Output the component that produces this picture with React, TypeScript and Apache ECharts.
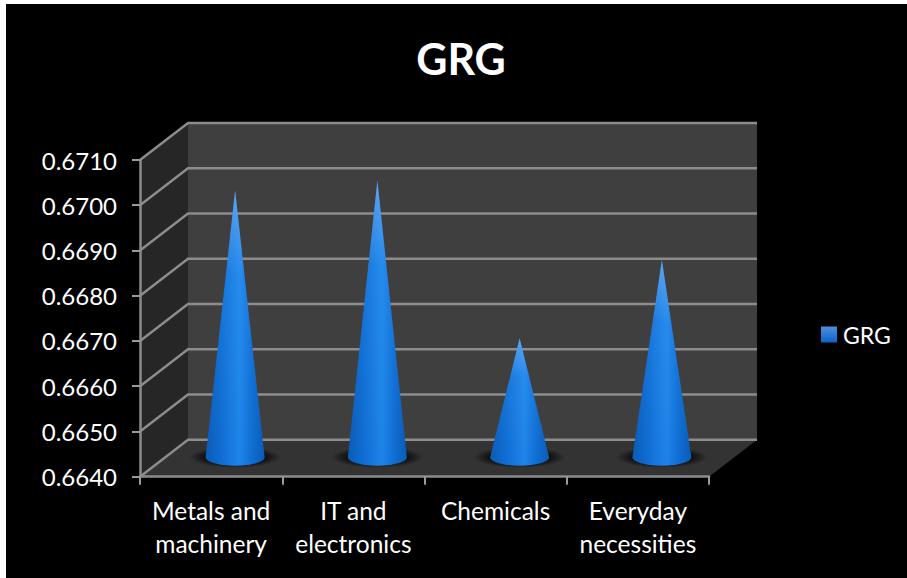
import React, { useEffect, useRef } from "react";
import * as echarts from "echarts";

const seriesName = "GRG";
const categories = ["Metals and\nmachinery", "IT and\nelectronics", "Chemicals", "Everyday\nnecessities"];
const grgValues = [0.66992, 0.67014, 0.66665, 0.66838];
const tickValues = [0.664, 0.665, 0.666, 0.667, 0.668, 0.669, 0.67, 0.671];

const AXIS_MIN = 0.664;
const AXIS_MAX = 0.671;
const DEPTH_X = 48;
const DEPTH_Y = 37;
const CONE_RX = 29.5;
const CONE_RY = 8.5;
const LINE_GREY = "#8c8c8c";
const FONT = "Lato";

// Back wall, side wall, floor and the gridlines that fold across them.
function renderWalls(params: any, api: any) {
  const { x, width } = params.coordSys;
  const right = x + width;
  const tickY = api.coord([0, api.value(1)])[1];
  const children: any[] = [];
  if (params.dataIndex === 0) {
    const bottom = api.coord([0, AXIS_MIN])[1];
    const top = api.coord([0, AXIS_MAX])[1];
    children.push(
      {
        type: "polygon",
        shape: { points: [[x + DEPTH_X, top - DEPTH_Y], [right + DEPTH_X, top - DEPTH_Y], [right + DEPTH_X, bottom - DEPTH_Y], [x + DEPTH_X, bottom - DEPTH_Y]] },
        style: { fill: "#3f3f3f" },
      },
      {
        type: "polygon",
        shape: { points: [[x, top], [x + DEPTH_X, top - DEPTH_Y], [x + DEPTH_X, bottom - DEPTH_Y], [x, bottom]] },
        style: { fill: "#262626" },
      },
      {
        type: "polygon",
        shape: { points: [[x, bottom], [x + DEPTH_X, bottom - DEPTH_Y], [right + DEPTH_X, bottom - DEPTH_Y], [right, bottom]] },
        style: { fill: "#333333" },
      },
    );
  }
  children.push({
    type: "polyline",
    shape: { points: [[x, tickY], [x + DEPTH_X, tickY - DEPTH_Y], [right + DEPTH_X, tickY - DEPTH_Y]] },
    style: { fill: "none", stroke: LINE_GREY, lineWidth: 2.5 },
  });
  return { type: "group", children };
}

// A shaded cone standing on the floor, halfway into the chart's depth.
function renderCone(_params: any, api: any) {
  const index = api.value(0);
  const base = api.coord([index, AXIS_MIN]);
  const tip = api.coord([index, api.value(1)]);
  const cx = base[0] + DEPTH_X / 2;
  const by = base[1] - DEPTH_Y / 2 - 1;
  const ty = tip[1] - DEPTH_Y / 2;
  const outline = `M${cx - CONE_RX} ${by} L${cx} ${ty} L${cx + CONE_RX} ${by} A${CONE_RX} ${CONE_RY} 0 0 1 ${cx - CONE_RX} ${by} Z`;
  return {
    type: "group",
    children: [
      {
        type: "ellipse",
        shape: { cx, cy: by, rx: 46, ry: 10.5 },
        style: {
          fill: new echarts.graphic.RadialGradient(0.5, 0.5, 0.5, [
            { offset: 0, color: "rgba(0,0,0,1)" },
            { offset: 0.6, color: "rgba(0,0,0,0.8)" },
            { offset: 1, color: "rgba(0,0,0,0)" },
          ]),
        },
      },
      {
        type: "path",
        shape: { pathData: outline },
        style: {
          fill: new echarts.graphic.LinearGradient(0, 0, 1, 0, [
            { offset: 0, color: "#0b5db8" },
            { offset: 0.25, color: "#0f6fd6" },
            { offset: 0.58, color: "#2088ee" },
            { offset: 0.8, color: "#0f6fd6" },
            { offset: 1, color: "#0b5db8" },
          ]),
        },
      },
      {
        type: "path",
        shape: { pathData: outline },
        style: {
          fill: new echarts.graphic.LinearGradient(0, 0, 0, 1, [
            { offset: 0, color: "rgba(170,205,245,0.45)" },
            { offset: 0.3, color: "rgba(170,205,245,0.05)" },
            { offset: 1, color: "rgba(0,40,110,0.05)" },
          ]),
        },
      },
    ],
  };
}

export default function App() {
  const chartRef = useRef<HTMLDivElement>(null);

  useEffect(() => {
    document.body.style.margin = "0";
    const chart = echarts.init(chartRef.current!, undefined, { renderer: "svg" });
    chart.setOption({
      animation: false,
      backgroundColor: "transparent",
      textStyle: { fontFamily: FONT },
      title: {
        text: seriesName,
        left: 456,
        top: 32,
        textAlign: "center",
        textStyle: { color: "#ffffff", fontFamily: FONT, fontWeight: "bold", fontSize: 43 },
      },
      legend: {
        data: [
          {
            name: seriesName,
            icon: "rect",
            itemStyle: {
              color: new echarts.graphic.LinearGradient(0, 0, 0, 1, [
                { offset: 0, color: "#4f8fdc" },
                { offset: 1, color: "#0b63c9" },
              ]),
            },
          },
        ],
        orient: "vertical",
        left: 816,
        top: 318,
        itemWidth: 16,
        itemHeight: 16,
        itemGap: 0,
        textStyle: { color: "#ffffff", fontFamily: FONT, fontSize: 23, padding: [0, 0, 0, 1] },
      },
      grid: { left: 140, top: 160, width: 569, height: 316.7, containLabel: false },
      xAxis: {
        type: "category",
        data: categories,
        boundaryGap: true,
        z: 3,
        axisLine: { show: true, lineStyle: { color: LINE_GREY, width: 2.5 } },
        axisTick: { show: true, length: 8, lineStyle: { color: "#9a9a9a", width: 2 } },
        axisLabel: { color: "#ffffff", fontFamily: FONT, fontSize: 24.5, lineHeight: 33, margin: 17, interval: 0 },
      },
      yAxis: {
        type: "value",
        min: AXIS_MIN,
        max: AXIS_MAX,
        interval: 0.001,
        z: 3,
        axisLine: { show: true, lineStyle: { color: LINE_GREY, width: 2.5 } },
        axisTick: { show: true, length: 8, lineStyle: { color: "#9a9a9a", width: 2 } },
        splitLine: { show: false },
        axisLabel: {
          color: "#ffffff",
          fontFamily: FONT,
          fontSize: 24,
          margin: 23,
          formatter: (v: number) => v.toFixed(4),
        },
      },
      series: [
        {
          name: "walls",
          type: "custom",
          z: 1,
          silent: true,
          coordinateSystem: "cartesian2d",
          encode: { x: 0, y: 1 },
          data: tickValues.map((v) => [0, v]),
          renderItem: renderWalls,
        },
        {
          name: seriesName,
          type: "custom",
          z: 4,
          coordinateSystem: "cartesian2d",
          encode: { x: 0, y: 1 },
          itemStyle: { color: "#1f78dc" },
          data: grgValues.map((v, i) => [i, v]),
          renderItem: renderCone,
        },
      ],
    });
    return () => chart.dispose();
  }, []);

  return (
    <div style={{ position: "fixed", left: 0, top: 0, width: 907, height: 578, background: "#ffffff" }}>
      <div style={{ position: "absolute", left: 6, top: 4, width: 901, height: 574, background: "#000000" }} />
      <div ref={chartRef} style={{ position: "absolute", left: 0, top: 0, width: 907, height: 578 }} />
    </div>
  );
}
